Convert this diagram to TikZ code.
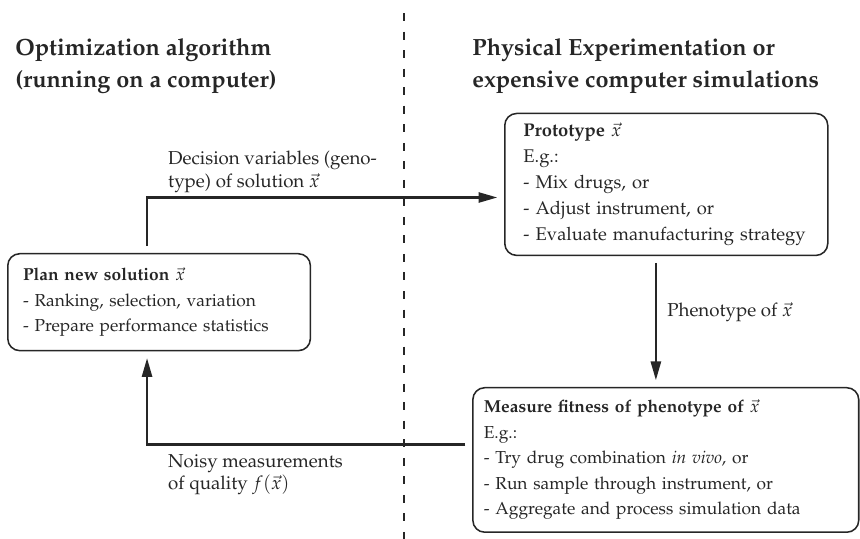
\documentclass[tikz,border=0pt]{standalone}
\usepackage[T1]{fontenc}
\usepackage{mathpazo}
\usepackage{amsmath}
\usetikzlibrary{arrows.meta, positioning, calc}

\begin{document}
\begin{tikzpicture}[
    every node/.style={text=black!85},
    hdr/.style={font=\fontsize{13.8}{19}\selectfont\bfseries, align=left, anchor=north west, inner sep=0pt},
    blk/.style={draw=black!85, line width=0.9pt, rounded corners=7pt, align=left, anchor=north west,
        font=\fontsize{10.2}{15}\selectfont, inner ysep=4pt},
    lbl/.style={font=\fontsize{11}{13.5}\selectfont, align=left, inner sep=0pt},
    link/.style={draw=black!85, line width=1.2pt, -{Triangle[length=11pt,width=6pt]},
        shorten <=4pt, shorten >=4pt}
]
    \useasboundingbox (0,0) rectangle (17.78,11.14);
    \draw[black!85, line width=0.9pt, dash pattern=on 4.7pt off 6.2pt] (8.35,10.87) -- (8.35,0);

    \node[hdr] (algo) at (0.31,10.36) {Optimization algorithm\\(running on a computer)};
    \node[hdr] (phys) at (9.76,10.36) {Physical Experimentation or\\expensive computer simulations};

    \node[blk, text width=160pt, inner xsep=9pt, minimum height=57pt] (plan) at (0.145,5.91)
        {\textbf{Plan new solution $\vec{x}$}\\
         - Ranking, selection, variation\\
         - Prepare performance statistics};
    \node[blk, text width=168pt, inner xsep=11pt, minimum height=83.5pt,
        font=\fontsize{10.8}{15.3}\selectfont] (proto) at (10.42,8.81)
        {\textbf{Prototype $\vec{x}$}\\
         E.g.:\\
         - Mix drugs, or\\
         - Adjust instrument, or\\
         - Evaluate manufacturing strategy};
    \node[blk, text width=214pt, inner xsep=6.5pt, minimum height=85pt] (meas) at (9.76,3.14)
        {\textbf{Measure fitness of phenotype of $\vec{x}$}\\
         E.g.:\\
         - Try drug combination \textit{in vivo}, or\\
         - Run sample through instrument, or\\
         - Aggregate and process simulation data};

    % loop between the two sides
    \coordinate (lcol) at (3.04,0);
    \coordinate (rcol) at (13.56,0);
    \draw[link] (plan.north -| lcol) |- ([yshift=-0.27cm]proto.west);
    \draw[link] (proto.south -| rcol) -- (meas.north -| rcol);
    \draw[link] ([yshift=0.32cm]meas.west) -| (plan.south -| lcol);

    \node[lbl, anchor=north west] (geno) at (3.47,8.02) {Decision variables (geno-\\type) of solution $\vec{x}$};
    \node[lbl, anchor=base west] (pheno) at (13.79,4.59) {Phenotype of $\vec{x}$};
    \node[lbl, anchor=north west] (noisy) at (3.47,1.76) {Noisy measurements\\of quality $f(\vec{x})$};
\end{tikzpicture}
\end{document}
